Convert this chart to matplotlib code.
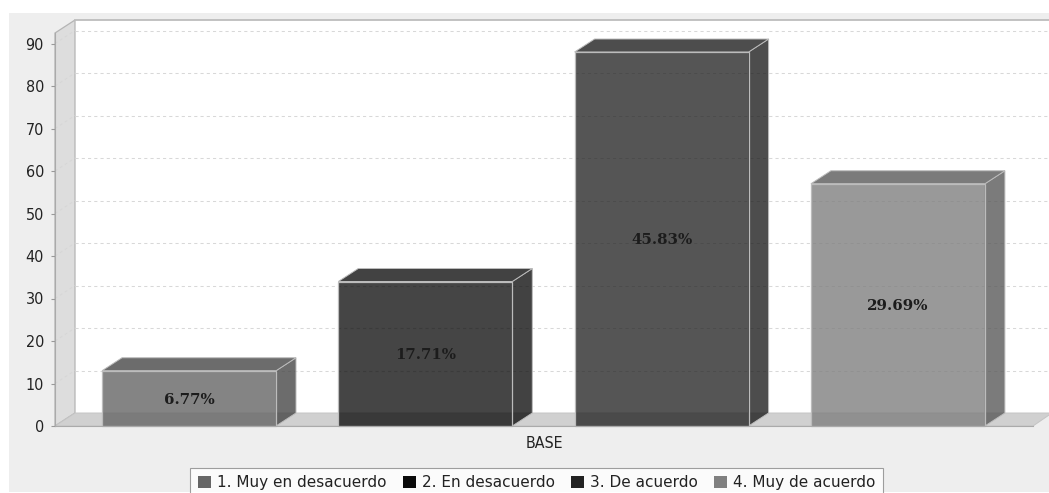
import matplotlib
matplotlib.use("Agg")
import matplotlib.pyplot as plt
from matplotlib.colors import to_rgba
from matplotlib.patches import Polygon, Rectangle, Patch
from matplotlib.font_manager import FontProperties
from matplotlib.transforms import offset_copy

categories = ["1. Muy en desacuerdo", "2. En desacuerdo", "3. De acuerdo", "4. Muy de acuerdo"]
values = [13, 34, 88, 57]
percent_labels = ["6.77%", "17.71%", "45.83%", "29.69%"]
colors = ["#666666", "#0a0a0a", "#222222", "#808080"]
bar_alpha = [0.8, 0.76, 0.77, 0.8]
y_ticks = [0, 10, 20, 30, 40, 50, 60, 70, 80, 90]
x_label = "BASE"

W, H = 1049, 493
fig = plt.figure(figsize=(W / 100, H / 100), dpi=100, facecolor="white")
fig.patches.append(Rectangle((9 / W, 1 / H), 1 - 9 / W, (479) / H, transform=fig.transFigure,
                             facecolor="#eeeeee", edgecolor="none", zorder=-10))

ax = fig.add_axes([55 / W, (H - 426) / H, 978 / W, 393 / H])
ax.patch.set_visible(False)
px_y = 4.25
px_x = 236.3
ax.set_ylim(0, 393 / px_y)
ax.set_xlim(-134 / px_x, -134 / px_x + 978 / px_x)
dx, dy = 20 / px_x, 13 / px_y
x0, x1 = ax.get_xlim()
top = ax.get_ylim()[1]
xr = x0 + (1052 - 55) / px_x

# walls and floor
ax.add_patch(Rectangle((x0 + dx, dy), xr - x0 - dx, top - 0, facecolor="white", edgecolor="none", clip_on=False, zorder=0))
ax.add_patch(Polygon([(x0, 0), (x0 + dx, dy), (x0 + dx, top + dy), (x0, top)], closed=True,
                     facecolor="#dddddd", edgecolor="#b4b4b4", lw=0.9, clip_on=False, zorder=1))
ax.add_patch(Polygon([(x0, 0), (x0 + dx, dy), (xr, dy), (x1, 0)], closed=True,
                     facecolor="#d0d0d0", edgecolor="#c4c4c4", lw=0.7, clip_on=False, zorder=1))
ax.plot([x0 + dx, xr], [top + dy, top + dy], color="#bdbdbd", lw=1.3, clip_on=False, zorder=2)

# gridlines on back wall and side wall
for t in y_ticks[1:]:
    ax.plot([x0 + dx, xr], [t + dy, t + dy], color="#d8d8d8", lw=0.75, ls=(0, (3, 3)), clip_on=False, zorder=2)
    ax.plot([x0, x0 + dx], [t, t + dy], color="#d6d6d6", lw=0.7, ls=(0, (3, 3)), clip_on=False, zorder=2)

# bars
bar_w = 174 / px_x
xs = list(range(len(values)))
edge = "#bcbcbc"
for x, v, c, a in zip(xs, values, colors, bar_alpha):
    r, g, b, _ = to_rgba(c)
    dark = (r * 0.7, g * 0.7, b * 0.7, a)
    l, rr = x - bar_w / 2, x + bar_w / 2
    ax.add_patch(Polygon([(rr, 0), (rr + dx, dy), (rr + dx, v + dy), (rr, v)], closed=True, facecolor=dark,
                         edgecolor=edge, lw=0.7, clip_on=False, zorder=3))
    ax.add_patch(Polygon([(l, v), (l + dx, v + dy), (rr + dx, v + dy), (rr, v)], closed=True, facecolor=dark,
                         edgecolor=edge, lw=0.7, clip_on=False, zorder=3))
ax.bar(xs, values, width=bar_w, color=[to_rgba(c, a) for c, a in zip(colors, bar_alpha)], edgecolor=edge,
       linewidth=0.9, zorder=4, clip_on=False)

label_tr = offset_copy(ax.transData, fig=fig, y=-1, units="points")
for x, v, s in zip(xs, values, percent_labels):
    ax.text(x, v / 2, s, ha="center", va="center", family="DejaVu Serif", weight="bold", fontsize=10.8,
            color="#1c1c1c", zorder=6, transform=label_tr)

fp = FontProperties(family="DejaVu Sans", stretch="condensed", size=11.5)
for s in ("top", "right"):
    ax.spines[s].set_visible(False)
for s in ("left", "bottom"):
    ax.spines[s].set_color("#aaaaaa")
    ax.spines[s].set_zorder(5)
ax.set_yticks(y_ticks)
ax.tick_params(axis="y", length=3, width=0.8, color="#999999", pad=5, labelcolor="#222222")
for t in ax.get_yticklabels():
    t.set_fontproperties(fp)
ax.set_xticks([(x0 + x1) / 2])
ax.set_xticklabels([x_label], fontproperties=FontProperties(family="DejaVu Sans", stretch="condensed", size=11.4), color="#222222")
ax.tick_params(axis="x", length=0, pad=7)

handles = [Patch(facecolor=c, edgecolor="none", label=n) for c, n in zip(colors, categories)]
leg = fig.legend(handles=handles, loc="lower left", bbox_to_anchor=(190 / W, -5 / H), bbox_transform=fig.transFigure,
                 ncol=4, frameon=True, fancybox=False, edgecolor="#888888", facecolor="white",
                 prop=FontProperties(family="DejaVu Sans", size=11),
                 handlelength=0.85, handleheight=0.85, handletextpad=0.4, columnspacing=1.07, borderpad=0.5,
                 labelcolor="#222222", borderaxespad=0)
leg.get_frame().set_linewidth(0.8)

fig.savefig("out.png", dpi=100)
